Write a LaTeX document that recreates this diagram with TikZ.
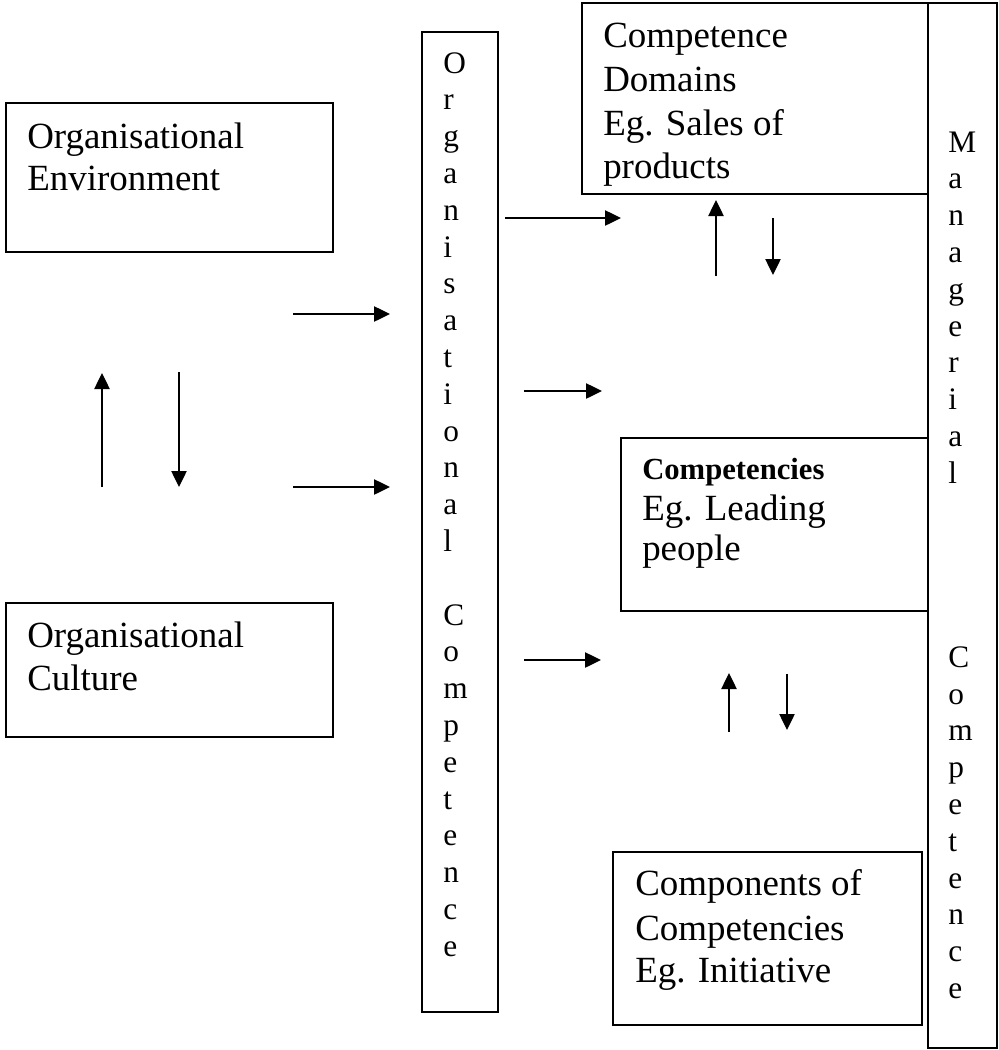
\documentclass[tikz,border=0pt]{standalone}
\usepackage{fontspec}
\setmainfont{Liberation Serif}
\usetikzlibrary{arrows.meta,fit}
\begin{document}
\begin{tikzpicture}[x=0.75pt,y=-0.75pt,
  box/.style={draw, line width=1.5pt, inner sep=0pt},
  lbl/.style={anchor=base west, inner sep=0pt, font=\fontsize{27.7}{32}\selectfont},
  boldlbl/.style={anchor=base west, inner sep=0pt, font=\bfseries\fontsize{23}{27}\selectfont},
  vl/.style={anchor=base west, inner sep=0pt, font=\fontsize{23.5}{28}\selectfont},
  arr/.style={line width=1pt, -{Triangle[length=12pt,width=11.5pt]}}]
\useasboundingbox (0,0) rectangle (999,1050);

% boxes
\node[box, fit={(6,103) (333,252)}] (env) {};
\node[box, fit={(6,603) (333,737)}] (cul) {};
\node[box, fit={(422,32) (498,1012)}] (oc) {};
\node[box, fit={(582,3) (928,194)}] (dom) {};
\node[box, fit={(928,3) (997,1048)}] (mc) {};
\node[box, fit={(621,438) (928,611)}] (cmp) {};
\node[box, fit={(613,852) (922,1025)}] (coc) {};

% box texts
\node[lbl] (env1) at (27,148) {Organisational};
\node[lbl] (env2) at (27,190) {Environment};
\node[lbl] (cul1) at (27,647) {Organisational};
\node[lbl] (cul2) at (27,690) {Culture};
\node[lbl] (dom1) at (603,47) {Competence};
\node[lbl] (dom2) at (603,91) {Domains};
\node[lbl] (dom3) at (603,135) {Eg. Sales of};
\node[lbl] (dom4) at (603,178) {products};
\node[boldlbl] (cmp1) at (642,479) {Competencies};
\node[lbl] (cmp2) at (642,520) {Eg. Leading};
\node[lbl] (cmp3) at (642,560) {people};
\node[lbl] (coc1) at (635,895) {Components of};
\node[lbl] (coc2) at (635,940) {Competencies};
\node[lbl] (coc3) at (635,982) {Eg. Initiative};

% vertical texts
\foreach \ch [count=\i] in {O,r,g,a,n,i,s,a,t,i,o,n,a,l,{},C,o,m,p,e,t,e,n,c,e}
  \node[vl] (ocl\i) at (443,{73+(\i-1)*36.8}) {\ch};
\foreach \ch [count=\i] in {M,a,n,a,g,e,r,i,a,l,{},{},{},{},C,o,m,p,e,t,e,n,c,e}
  \node[vl] (mcl\i) at (948,{152+(\i-1)*36.8}) {\ch};

% arrow end points
\coordinate (a1s) at (293,314); \coordinate (a1e) at (390,314);
\coordinate (a2s) at (293,487); \coordinate (a2e) at (390,487);
\coordinate (a3s) at (102,487); \coordinate (a3e) at (102,373);
\coordinate (a4s) at (179,372); \coordinate (a4e) at (179,487);
\coordinate (a5s) at (505,218); \coordinate (a5e) at (621,218);
\coordinate (a6s) at (524,391); \coordinate (a6e) at (602,391);
\coordinate (a7s) at (524,660); \coordinate (a7e) at (601,660);
\coordinate (a8s) at (716,276); \coordinate (a8e) at (716,200);
\coordinate (a9s) at (773,218); \coordinate (a9e) at (773,275);
\coordinate (a10s) at (729,732); \coordinate (a10e) at (729,673);
\coordinate (a11s) at (787,674); \coordinate (a11e) at (787,730);

\foreach \k in {1,...,11}
  \draw[arr] (a\k s) -- (a\k e);
\end{tikzpicture}
\end{document}
